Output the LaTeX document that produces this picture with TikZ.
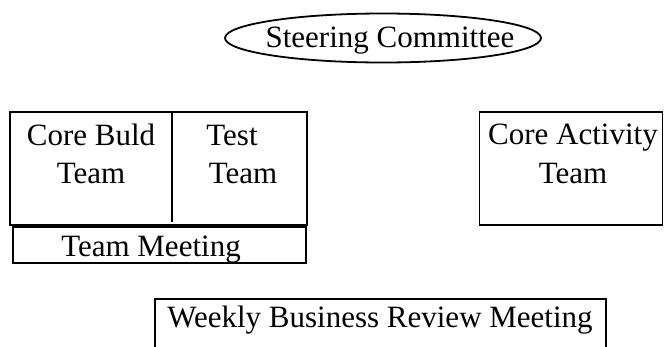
\documentclass[tikz,border=0pt]{standalone}
\usepackage{fontspec}
\setmainfont{Liberation Serif}
\usetikzlibrary{shapes.geometric}
\begin{document}
\begin{tikzpicture}[x=1pt,y=-1pt,
  box/.style={draw=black,line width=1.8pt,rectangle,inner sep=0pt},
  oval/.style={draw=black,line width=1.8pt,ellipse,inner sep=0pt,minimum width=316pt,minimum height=49pt},
  txt/.style={inner sep=0pt,anchor=base,font=\fontsize{31}{37}\selectfont}]
\useasboundingbox (0,0) rectangle (664,346);
\clip (0,0) rectangle (664,346);
% Steering Committee
\node[oval] (steer) at (383,38) {};
\node[txt] (steertxt) at (390,47) {Steering Committee};
% Core build / test block
\node[box,minimum width=297pt,minimum height=113pt] (teams) at (158.5,168.5) {};
\coordinate (divtop) at (172,112);
\coordinate (divbot) at (172,222);
\draw[line width=1.8pt] (divtop) -- (divbot);
\node[txt] (core1) at (91,145) {Core Buld};
\node[txt] (core2) at (91,183) {Team};
\node[txt] (test1) at (232,145) {Test};
\node[txt] (test2) at (243,183) {Team};
% Team meeting
\node[box,minimum width=293pt,minimum height=36pt] (meet) at (159.5,245) {};
\node[txt] (meettxt) at (151,256) {Team Meeting};
% Core Activity
\node[box,minimum width=183pt,minimum height=113pt] (act) at (571,168.5) {};
\node[txt] (act1) at (573,144) {Core Activity};
\node[txt] (act2) at (573,183) {Team};
% Weekly
\node[box,minimum width=451pt,minimum height=60pt] (weekly) at (380.5,329) {};
\node[txt] (weeklytxt) at (380,327) {Weekly Business Review Meeting};
\end{tikzpicture}
\end{document}
